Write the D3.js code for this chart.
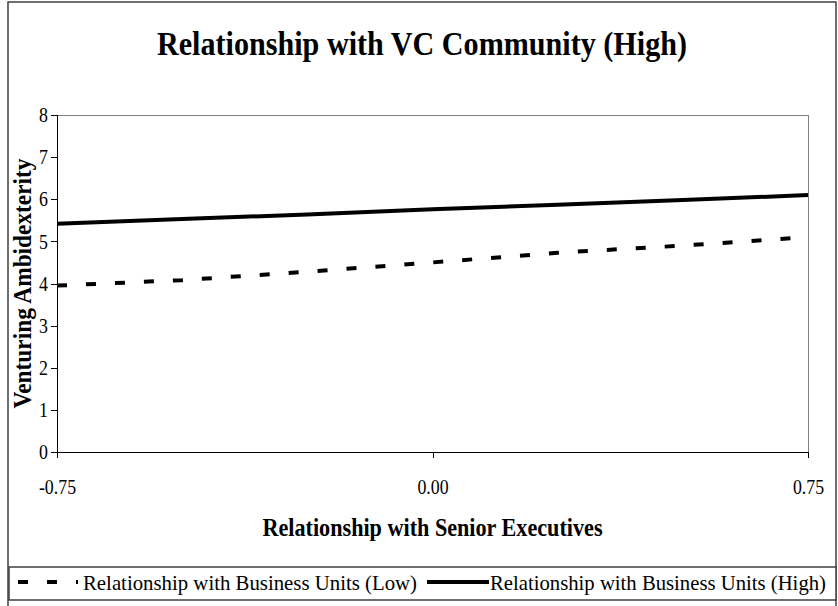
<!DOCTYPE html>
<html>
<head>
<meta charset="utf-8">
<script src="https://cdn.jsdelivr.net/npm/d3@7"></script>
<style>
  body { margin: 0; background: #fff; }
  svg { display: block; font-family: "Liberation Serif", "Times New Roman", serif; }
  .axis path, .axis line { stroke: #000; shape-rendering: crispEdges; }
  .axis text { font-family: "Liberation Serif", "Times New Roman", serif; font-size: 21px; fill: #000; }
</style>
</head>
<body>
<div id="chart"></div>
<script>
var width = 838,
    height = 606;

// values
var xValues = [-0.75, -0.5, -0.25, 0, 0.25, 0.5, 0.75];
var lowUnits = [3.95, 4.08, 4.28, 4.50, 4.73, 4.90, 5.10];
var highUnits = [5.42, 5.53, 5.64, 5.76, 5.87, 5.98, 6.10];
var xTickValues = [-0.75, 0, 0.75];
var yTickValues = [0, 1, 2, 3, 4, 5, 6, 7, 8];
var seriesNames = ['Relationship with Business Units (Low)', 'Relationship with Business Units (High)'];

var plot = {left: 57, right: 808, top: 115, bottom: 452};
var squeeze = 0.85;   // the original text is drawn narrow

var svg = d3.select('#chart').append('svg')
    .attr('width', width)
    .attr('height', height);

// outer frame
svg.append('rect')
    .attr('x', 8).attr('y', 2)
    .attr('width', 828).attr('height', 620)
    .attr('fill', 'none')
    .attr('stroke', '#404040')
    .attr('stroke-width', 1.5);

svg.append('text')
    .attr('x', 422).attr('y', 55)
    .attr('text-anchor', 'middle')
    .style('font-size', '34px')
    .style('font-weight', 'bold')
    .attr('textLength', 530).attr('lengthAdjust', 'spacingAndGlyphs')
    .text('Relationship with VC Community (High)');

var x = d3.scaleLinear().domain([-0.75, 0.75]).range([plot.left, plot.right]);
var y = d3.scaleLinear().domain([0, 8]).range([plot.bottom, plot.top]);

// plot frame (grey top/right)
svg.append('path')
    .attr('d', 'M' + plot.left + ',' + plot.top + 'H' + plot.right + 'V' + plot.bottom)
    .attr('fill', 'none')
    .attr('stroke', '#808080')
    .attr('shape-rendering', 'crispEdges');

var yAxis = svg.append('g')
    .attr('class', 'axis')
    .attr('transform', 'translate(' + plot.left + ',0)')
    .call(d3.axisLeft(y).tickValues(yTickValues).tickSize(6).tickPadding(3).tickFormat(function(d) { return d; }));
yAxis.select('.domain').attr('d', 'M0,' + plot.top + 'V' + plot.bottom);

var xAxis = svg.append('g')
    .attr('class', 'axis')
    .attr('transform', 'translate(0,' + plot.bottom + ')')
    .call(d3.axisBottom(x).tickValues(xTickValues).tickSize(6).tickPadding(21).tickFormat(function(d) { return d.toFixed(2); }));
xAxis.select('.domain').attr('d', 'M' + plot.left + ',0H' + plot.right);

svg.selectAll('.axis text').each(function() {
    var w = this.getComputedTextLength();
    d3.select(this).attr('textLength', w * squeeze).attr('lengthAdjust', 'spacingAndGlyphs');
});

svg.append('text')
    .attr('transform', 'translate(31,' + ((plot.top + plot.bottom) / 2) + ') rotate(-90)')
    .attr('text-anchor', 'middle')
    .style('font-size', '25px')
    .style('font-weight', 'bold')
    .attr('textLength', 250).attr('lengthAdjust', 'spacingAndGlyphs')
    .text('Venturing Ambidexterity');

svg.append('text')
    .attr('x', (plot.left + plot.right) / 2).attr('y', 536)
    .attr('text-anchor', 'middle')
    .style('font-size', '25px')
    .style('font-weight', 'bold')
    .attr('textLength', 340).attr('lengthAdjust', 'spacingAndGlyphs')
    .text('Relationship with Senior Executives');

var line = d3.line()
    .x(function(d, i) { return x(xValues[i]); })
    .y(function(d) { return y(d); });

svg.append('path')
    .datum(lowUnits)
    .attr('d', line)
    .attr('fill', 'none')
    .attr('stroke', '#000')
    .attr('stroke-width', 4)
    .attr('stroke-dasharray', '10,19');

svg.append('path')
    .datum(highUnits)
    .attr('d', line)
    .attr('fill', 'none')
    .attr('stroke', '#000')
    .attr('stroke-width', 4);

// legend
var legend = svg.append('g');
legend.append('rect')
    .attr('x', 9).attr('y', 567)
    .attr('width', 827).attr('height', 33)
    .attr('fill', '#fff')
    .attr('stroke', '#404040')
    .attr('stroke-width', 1.5);

legend.append('line')
    .attr('x1', 18).attr('x2', 78)
    .attr('y1', 582).attr('y2', 582)
    .attr('stroke', '#000').attr('stroke-width', 4)
    .attr('stroke-dasharray', '10,19');
legend.append('text')
    .attr('x', 83).attr('y', 590)
    .style('font-size', '20.7px')
    .attr('textLength', 334).attr('lengthAdjust', 'spacingAndGlyphs')
    .text(seriesNames[0]);

legend.append('line')
    .attr('x1', 427).attr('x2', 489)
    .attr('y1', 582).attr('y2', 582)
    .attr('stroke', '#000').attr('stroke-width', 4);
legend.append('text')
    .attr('x', 490).attr('y', 590)
    .style('font-size', '20.7px')
    .attr('textLength', 336).attr('lengthAdjust', 'spacingAndGlyphs')
    .text(seriesNames[1]);
</script>
</body>
</html>
